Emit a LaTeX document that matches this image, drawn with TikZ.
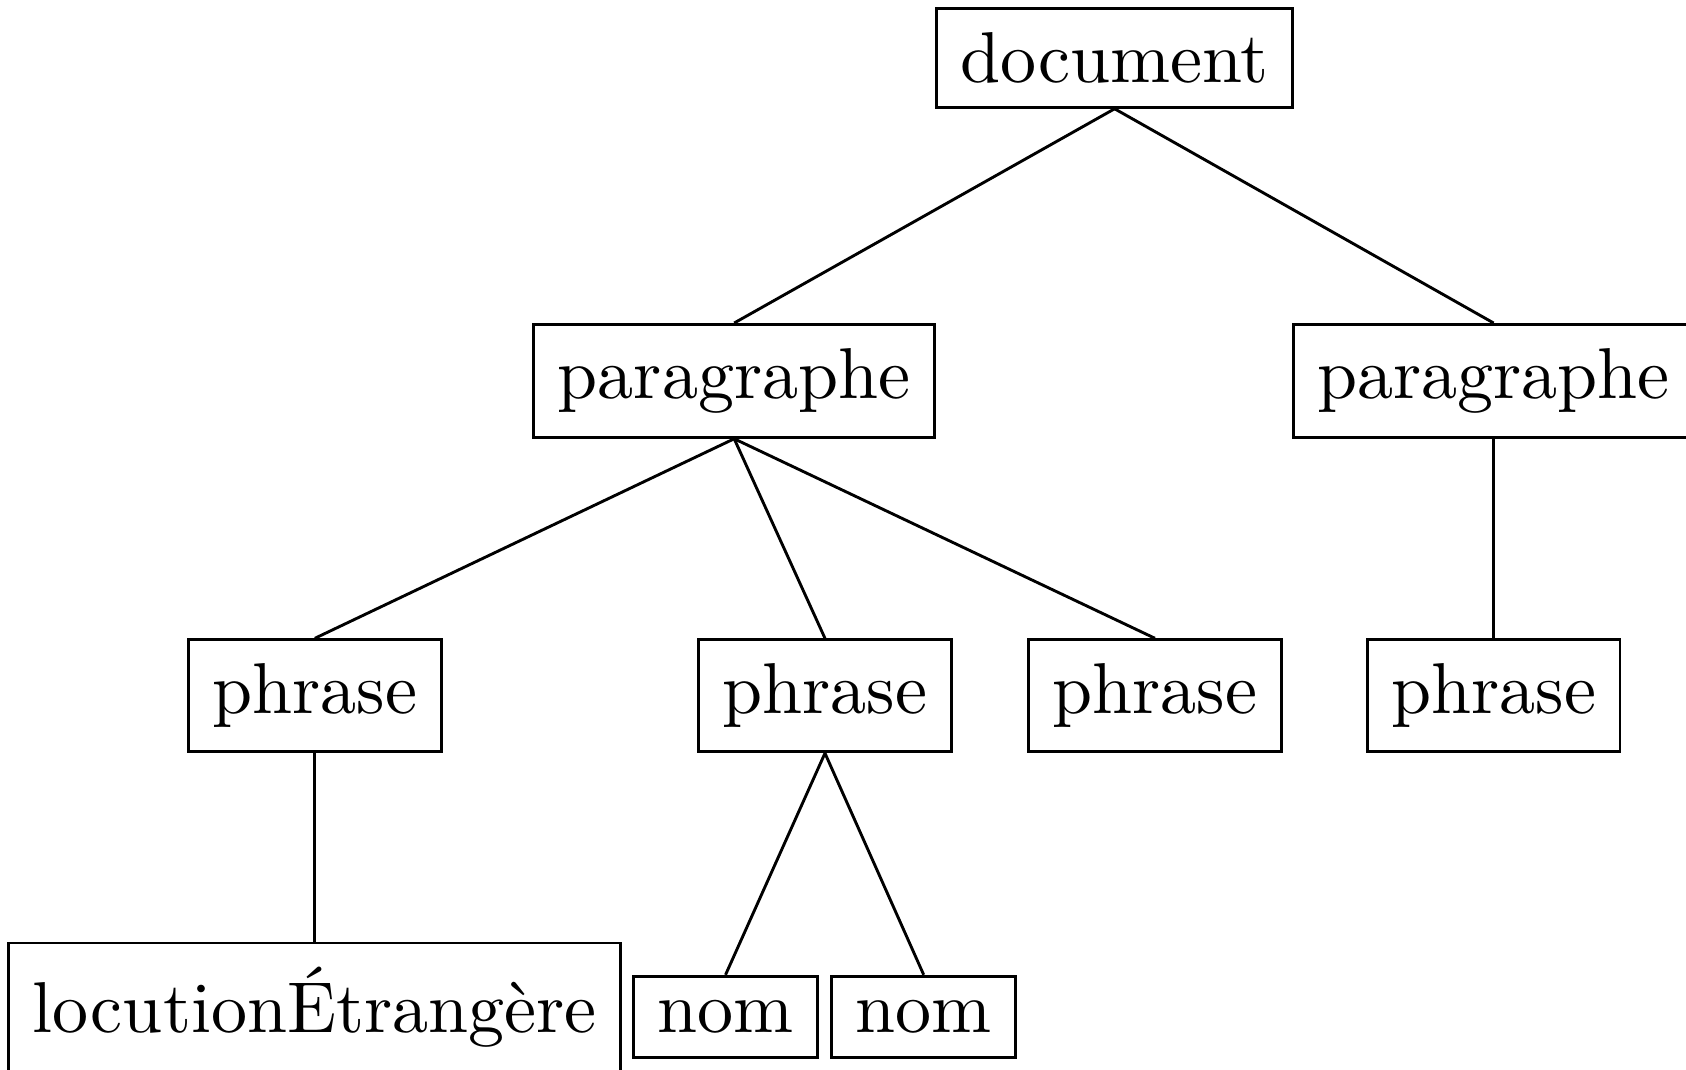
\documentclass[tikz,border=0pt]{standalone}
\usepackage{fontspec}
\tikzset{
  mot/.style={draw, rectangle, anchor=base, inner sep=0.3333em},
}
\begin{document}
\begin{tikzpicture}[x=1pt,y=-1pt]
    \useasboundingbox (0,0) rectangle (234,148.4);

    %%% Niveau 0 %%%
    \node[mot] (doc) at (154.7,11.45) {document};

    %%% Niveau 1 %%%
    \node[mot] (parA) at (101.9,55.3) {paragraphe};
    \node[mot] (parB) at (207.3,55.3) {paragraphe};
    \draw (doc.south)--(parA.north);    \draw (doc.south)--(parB.north);

    %%% Niveau 2 %%%
    \node[mot] (phrA) at (43.7,99.06)  {phrase};
    \node[mot] (phrB) at (114.5,99.06) {phrase};
    \node[mot] (phrC) at (160.3,99.06) {phrase};
    \node[mot] (phrD) at (207.3,99.06) {phrase};
    \draw (parA.south)--(phrA.north);   \draw (parA.south)--(phrB.north);
    \draw (parA.south)--(phrC.north);   \draw (parB.south)--(phrD.north);

    %%% Niveau 3 %%%
    \node[mot] (loc)  at (43.7,143.3)  {locutionÉtrangère};
    \node[mot] (nomA) at (100.7,143.3) {nom};
    \node[mot] (nomB) at (128.2,143.3) {nom};
    \draw (phrA.south)--(loc.north);
    \draw (phrB.south)--(nomA.north);   \draw (phrB.south)--(nomB.north);

\end{tikzpicture}
\end{document}
